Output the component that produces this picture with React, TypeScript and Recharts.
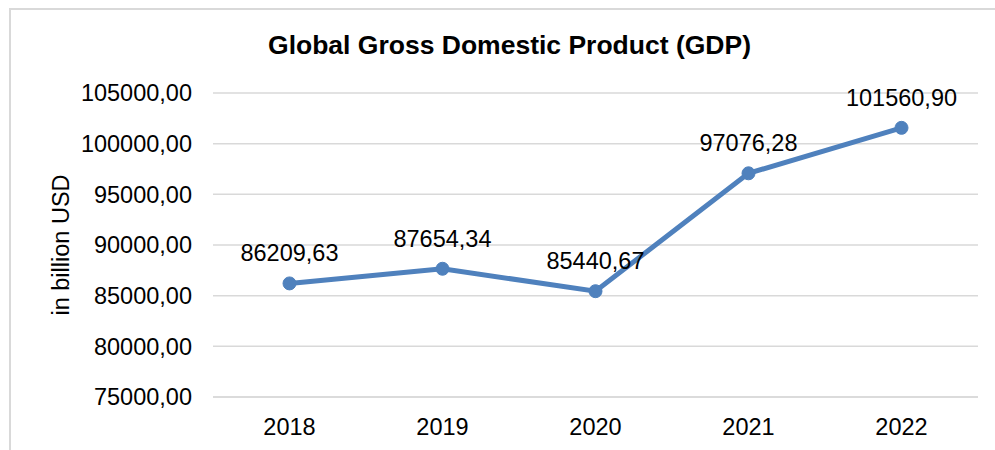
import React from 'react';
import { LineChart, Line, XAxis, YAxis, CartesianGrid, LabelList, Label } from 'recharts';

const years = ['2018', '2019', '2020', '2021', '2022'];
const gdp = [86209.63, 87654.34, 85440.67, 97076.28, 101560.9];
const yTicks = [75000, 80000, 85000, 90000, 95000, 100000, 105000];

const data = years.map((y, i) => ({ year: y, gdp: gdp[i] }));

const fmt = (v: number) => v.toFixed(2).replace('.', ',');

const FONT = '"Liberation Sans", Arial, sans-serif';

export default function App() {
  return (
    <div style={{ position: 'absolute', left: 0, top: 0, width: 995, height: 450, background: '#fff', fontFamily: FONT, overflow: 'hidden' }}>
      <div style={{ position: 'absolute', left: 9, top: 8, width: 1000, height: 460, borderTop: '2px solid #d9d9d9', borderLeft: '2px solid #d9d9d9', boxSizing: 'border-box' }} />
      <div style={{ position: 'absolute', left: 0, width: 1019, top: 29, textAlign: 'center', fontSize: 26.5, fontWeight: 'bold', color: '#000', lineHeight: '32px' }}>
        Global Gross Domestic Product (GDP)
      </div>
      <LineChart width={995} height={450} data={data} margin={{ top: 93, right: 17, bottom: 0, left: 0 }} style={{ position: 'absolute', left: 0, top: 0 }}>
        <CartesianGrid vertical={false} stroke="#d9d9d9" strokeWidth={1.5} />
        <XAxis dataKey="year" padding={{ left: 76.5, right: 76.5 }} axisLine={{ stroke: '#d9d9d9', strokeWidth: 1.5 }} tickLine={false} tickSize={0} tickMargin={21} height={53}
          tick={{ fill: '#000', fontSize: 23.5, fontFamily: FONT }} />
        <YAxis domain={[75000, 105000]} ticks={yTicks} width={213} axisLine={false} tickLine={false} tickSize={0} tickMargin={21}
          tickFormatter={fmt} tick={{ fill: '#000', fontSize: 23.5, fontFamily: FONT }}>
          <Label value="in billion USD" angle={-90} position="center" dx={-46} style={{ fill: '#000', fontSize: 23.5, fontFamily: FONT }} />
        </YAxis>
        <Line type="linear" dataKey="gdp" stroke="#4f81bd" strokeWidth={5} dot={{ r: 6.5, fill: '#4f81bd', stroke: '#4f81bd', strokeWidth: 1 }} isAnimationActive={false}>
          <LabelList dataKey="gdp" position="top" offset={22} formatter={(v: any) => fmt(Number(v))} style={{ fill: '#000', fontSize: 23.5, fontFamily: FONT }} />
        </Line>
      </LineChart>
    </div>
  );
}
